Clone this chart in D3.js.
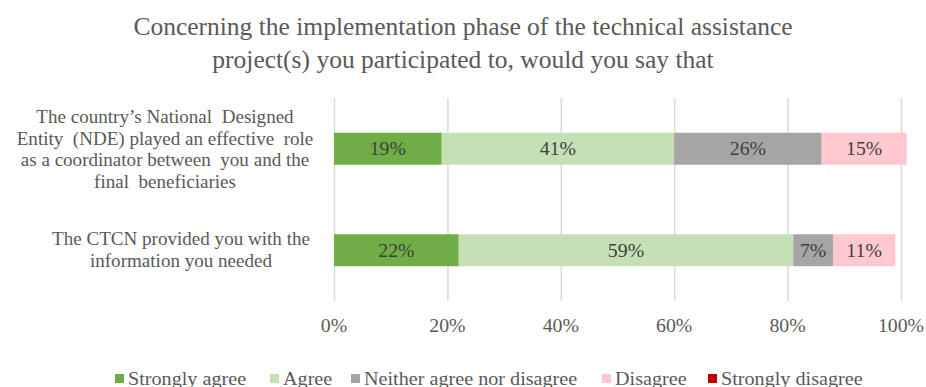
<!DOCTYPE html>
<html>
<head>
<meta charset="utf-8">
<script src="https://cdn.jsdelivr.net/npm/d3@7"></script>
<style>
  html, body { margin: 0; padding: 0; background: #fff; }
  svg { display: block; }
  svg text { font-family: "Liberation Serif", "Times New Roman", serif; white-space: pre; }
</style>
</head>
<body>
<svg id="chart" width="926" height="387"></svg>
<script>
// Survey responses (percent of respondents)
const categories = [
  ["The country\u2019s National  Designed", "Entity  (NDE) played an effective  role", "as a coordinator between  you and the", "final  beneficiaries"],
  ["The CTCN provided you with the", "information you needed"]
];
const seriesNames = ["Strongly agree", "Agree", "Neither agree nor disagree", "Disagree", "Strongly disagree"];
const stronglyAgree = [19, 22];
const agree = [41, 59];
const neither = [26, 7];
const disagree = [15, 11];
const stronglyDisagree = [0, 0];
const tickValues = [0, 20, 40, 60, 80, 100];

const colors = ["#70AD47", "#C5E0B4", "#A5A5A5", "#FFC7CE", "#C00000"];
const seriesValues = [stronglyAgree, agree, neither, disagree, stronglyDisagree];

const svg = d3.select("#chart");
const textGray = "#595959";

// Text placed at (x, y) with a slight horizontal widening of the glyphs
function label(parent, x, y, str, opts) {
  return parent.append("text")
    .attr("transform", `translate(${x},${y}) scale(${opts.sx || 1},1)`)
    .attr("text-anchor", opts.anchor || "start")
    .attr("font-size", opts.size)
    .attr("fill", opts.fill || textGray)
    .text(str);
}

// Title
label(svg, 463, 35, "Concerning the implementation phase of the technical assistance",
  { size: 25, sx: 1.02, anchor: "middle" });
label(svg, 463, 68, "project(s) you participated to, would you say that",
  { size: 25, sx: 1.02, anchor: "middle" });

// Scales
const x = d3.scaleLinear().domain([0, 100]).range([334, 901]);
const y = d3.scaleBand().domain(d3.range(categories.length))
  .range([98, 301]).paddingInner(0.685).paddingOuter(0.3425);

// Vertical gridlines
svg.append("g").selectAll("line").data(tickValues).join("line")
  .attr("x1", d => x(d) + 0.5).attr("x2", d => x(d) + 0.5)
  .attr("y1", 98).attr("y2", 301)
  .attr("stroke", "#D9D9D9").attr("stroke-width", 1.5);

// Stacked segments
const stackData = categories.map((c, i) => {
  let acc = 0;
  return seriesValues.map((vals, s) => {
    const seg = { cat: i, s, v: vals[i], x0: acc, x1: acc + vals[i] };
    acc += vals[i];
    return seg;
  });
}).flat().filter(d => d.v > 0);

svg.append("g").selectAll("rect").data(stackData).join("rect")
  .attr("x", d => x(d.x0)).attr("width", d => x(d.x1) - x(d.x0))
  .attr("y", d => y(d.cat)).attr("height", y.bandwidth())
  .attr("fill", d => colors[d.s]);

const valueLayer = svg.append("g");
stackData.forEach(d => {
  label(valueLayer, (x(d.x0) + x(d.x1)) / 2, y(d.cat) + y.bandwidth() / 2 + 6.5, d.v + "%",
    { size: 18, sx: 1.1, anchor: "middle", fill: "#404040" });
});

// Category labels
const labelCenters = [165, 181];
const labelTops = [123, 245];
const catLayer = svg.append("g");
categories.forEach((lines, i) => {
  lines.forEach((ln, j) => {
    label(catLayer, labelCenters[i], labelTops[i] + j * 21.5, ln,
      { size: 18, sx: 1.06, anchor: "middle" });
  });
});

// X axis tick labels
const tickLayer = svg.append("g");
tickValues.forEach(t => {
  label(tickLayer, x(t), 332, t + "%", { size: 18, sx: 1.1, anchor: "middle" });
});

// Legend
const legendX = [115, 270, 351, 602, 708];
const legend = svg.append("g");
seriesNames.forEach((name, i) => {
  legend.append("rect").attr("x", legendX[i]).attr("y", 374)
    .attr("width", 9).attr("height", 9).attr("fill", colors[i]);
  label(legend, legendX[i] + 13, 385, name, { size: 18, sx: 1.12 });
});
</script>
</body>
</html>
